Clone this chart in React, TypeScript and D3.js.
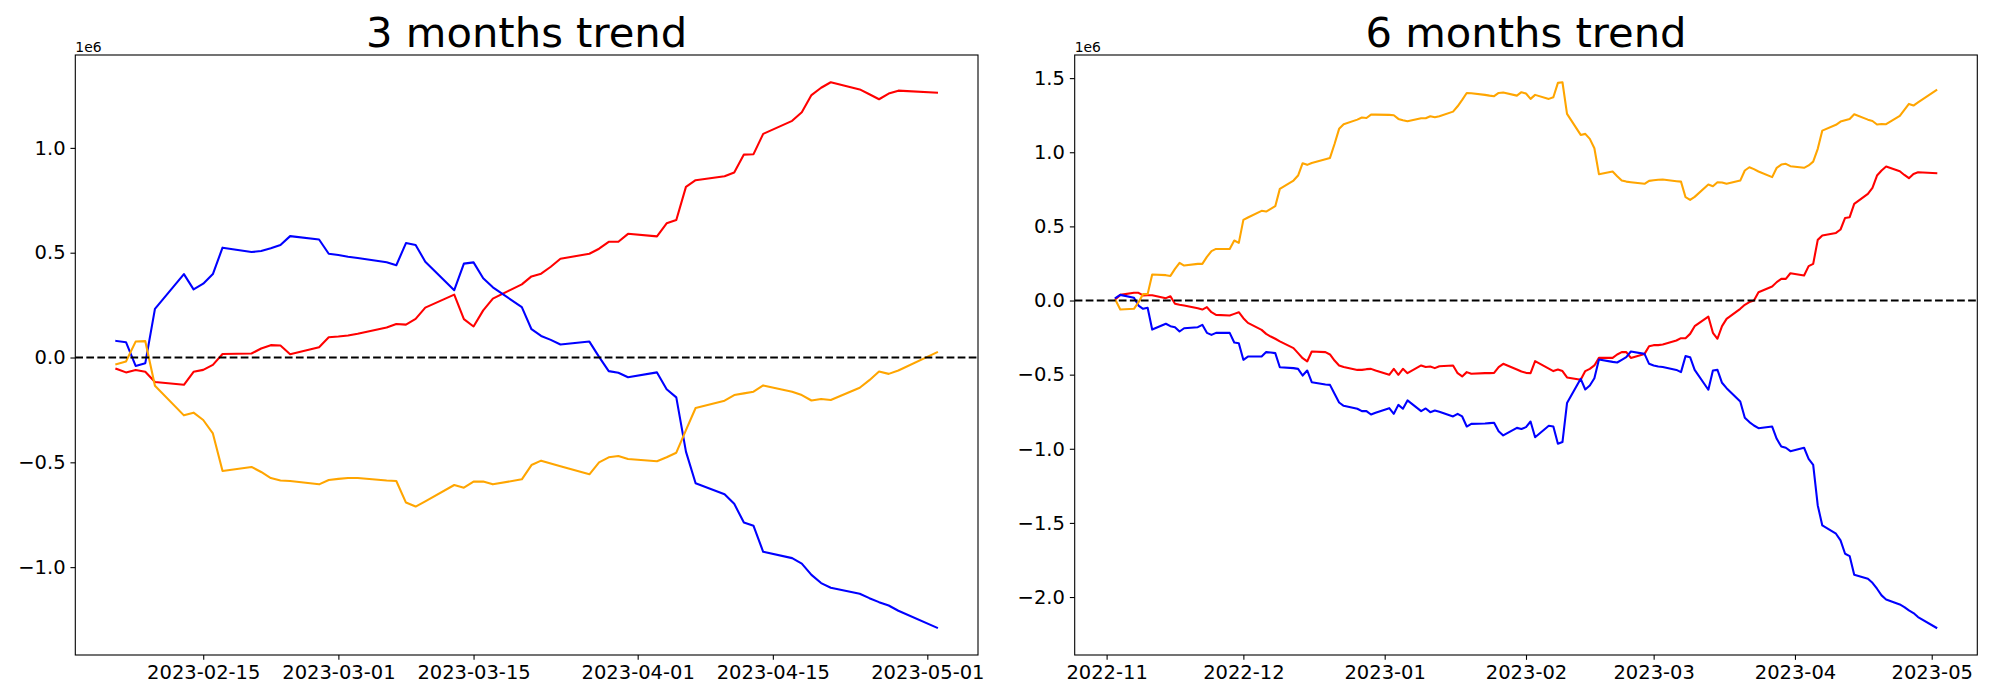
import React, { useRef, useEffect } from 'react';
import * as d3 from 'd3';

// 3 months panel: trading days and cumulative values (units of 1e6)
const dates3m = [
  '2023-02-06', '2023-02-07', '2023-02-08', '2023-02-09', '2023-02-10',
  '2023-02-13', '2023-02-14', '2023-02-15', '2023-02-16', '2023-02-17',
  '2023-02-20', '2023-02-21', '2023-02-22', '2023-02-23', '2023-02-24',
  '2023-02-27', '2023-02-28', '2023-03-01', '2023-03-02', '2023-03-03',
  '2023-03-06', '2023-03-07', '2023-03-08', '2023-03-09', '2023-03-10',
  '2023-03-13', '2023-03-14', '2023-03-15', '2023-03-16', '2023-03-17',
  '2023-03-20', '2023-03-21', '2023-03-22', '2023-03-23', '2023-03-24',
  '2023-03-27', '2023-03-28', '2023-03-29', '2023-03-30', '2023-03-31',
  '2023-04-03', '2023-04-04', '2023-04-05', '2023-04-06', '2023-04-07',
  '2023-04-10', '2023-04-11', '2023-04-12', '2023-04-13', '2023-04-14',
  '2023-04-17', '2023-04-18', '2023-04-19', '2023-04-20', '2023-04-21',
  '2023-04-24', '2023-04-25', '2023-04-26', '2023-04-27', '2023-04-28',
  '2023-05-02'
];

const red3m = [
  -0.054, -0.071, -0.060, -0.068, -0.117,
  -0.130, -0.068, -0.059, -0.035, 0.017,
  0.019, 0.043, 0.059, 0.057, 0.016,
  0.049, 0.097, 0.100, 0.105, 0.113,
  0.143, 0.160, 0.157, 0.184, 0.238,
  0.300, 0.183, 0.148, 0.225, 0.281,
  0.349, 0.387, 0.400, 0.433, 0.471,
  0.495, 0.519, 0.552, 0.552, 0.590,
  0.578, 0.640, 0.656, 0.814, 0.846,
  0.865, 0.883, 0.968, 0.970, 1.067,
  1.129, 1.170, 1.252, 1.287, 1.313,
  1.279, 1.256, 1.232, 1.259, 1.273,
  1.263
];

const blue3m = [
  0.079, 0.073, -0.040, -0.027, 0.232,
  0.398, 0.325, 0.352, 0.398, 0.524,
  0.503, 0.508, 0.521, 0.537, 0.579,
  0.563, 0.495, 0.489, 0.481, 0.475,
  0.454, 0.440, 0.546, 0.537, 0.457,
  0.321, 0.448, 0.454, 0.378, 0.335,
  0.240, 0.135, 0.103, 0.084, 0.062,
  0.076, 0.003, -0.065, -0.073, -0.094,
  -0.071, -0.151, -0.190, -0.449, -0.600,
  -0.652, -0.698, -0.787, -0.803, -0.927,
  -0.957, -0.983, -1.037, -1.076, -1.098,
  -1.127, -1.148, -1.167, -1.183, -1.208,
  -1.289
];

const orange3m = [
  -0.032, -0.019, 0.076, 0.078, -0.135,
  -0.276, -0.263, -0.298, -0.362, -0.541,
  -0.522, -0.546, -0.575, -0.587, -0.589,
  -0.605, -0.584, -0.579, -0.575, -0.575,
  -0.587, -0.589, -0.692, -0.711, -0.686,
  -0.608, -0.621, -0.592, -0.592, -0.605,
  -0.581, -0.513, -0.492, -0.506, -0.519,
  -0.557, -0.500, -0.476, -0.470, -0.484,
  -0.495, -0.476, -0.454, -0.346, -0.241,
  -0.206, -0.179, -0.171, -0.163, -0.133,
  -0.163, -0.179, -0.205, -0.198, -0.203,
  -0.144, -0.108, -0.067, -0.078, -0.062,
  0.025
];

// 6 months panel
const dates6m = [
  '2022-11-03', '2022-11-04',
  '2022-11-07', '2022-11-08', '2022-11-09', '2022-11-10', '2022-11-11',
  '2022-11-14', '2022-11-15', '2022-11-16', '2022-11-17', '2022-11-18',
  '2022-11-21', '2022-11-22', '2022-11-23', '2022-11-24', '2022-11-25',
  '2022-11-28', '2022-11-29', '2022-11-30', '2022-12-01', '2022-12-02',
  '2022-12-05', '2022-12-06', '2022-12-07', '2022-12-08', '2022-12-09',
  '2022-12-12', '2022-12-13', '2022-12-14', '2022-12-15', '2022-12-16',
  '2022-12-19', '2022-12-20', '2022-12-21', '2022-12-22', '2022-12-23',
  '2022-12-26', '2022-12-27', '2022-12-28', '2022-12-29', '2022-12-30',
  '2023-01-02', '2023-01-03', '2023-01-04', '2023-01-05', '2023-01-06',
  '2023-01-09', '2023-01-10', '2023-01-11', '2023-01-12', '2023-01-13',
  '2023-01-16', '2023-01-17', '2023-01-18', '2023-01-19', '2023-01-20',
  '2023-01-23', '2023-01-24', '2023-01-25', '2023-01-26', '2023-01-27',
  '2023-01-30', '2023-01-31', '2023-02-01', '2023-02-02', '2023-02-03',
  '2023-02-06', '2023-02-07', '2023-02-08', '2023-02-09', '2023-02-10',
  '2023-02-13', '2023-02-14', '2023-02-15', '2023-02-16', '2023-02-17',
  '2023-02-20', '2023-02-21', '2023-02-22', '2023-02-23', '2023-02-24',
  '2023-02-27', '2023-02-28', '2023-03-01', '2023-03-02', '2023-03-03',
  '2023-03-06', '2023-03-07', '2023-03-08', '2023-03-09', '2023-03-10',
  '2023-03-13', '2023-03-14', '2023-03-15', '2023-03-16', '2023-03-17',
  '2023-03-20', '2023-03-21', '2023-03-22', '2023-03-23', '2023-03-24',
  '2023-03-27', '2023-03-28', '2023-03-29', '2023-03-30', '2023-03-31',
  '2023-04-03', '2023-04-04', '2023-04-05', '2023-04-06', '2023-04-07',
  '2023-04-10', '2023-04-11', '2023-04-12', '2023-04-13', '2023-04-14',
  '2023-04-17', '2023-04-18', '2023-04-19', '2023-04-20', '2023-04-21',
  '2023-04-24', '2023-04-25', '2023-04-26', '2023-04-27', '2023-04-28',
  '2023-05-02'
];

const orange6m = [
  0.000, -0.061,
  -0.056, -0.011, 0.043, 0.043, 0.175,
  0.171, 0.166, 0.213, 0.254, 0.236,
  0.247, 0.247, 0.294, 0.333, 0.348,
  0.348, 0.405, 0.389, 0.544, 0.560,
  0.605, 0.600, 0.618, 0.636, 0.753,
  0.809, 0.843, 0.926, 0.915, 0.928,
  0.953, 0.962, 1.056, 1.158, 1.189,
  1.220, 1.234, 1.231, 1.254, 1.254,
  1.252, 1.250, 1.225, 1.216, 1.209,
  1.229, 1.229, 1.243, 1.236, 1.243,
  1.274, 1.310, 1.353, 1.400, 1.398,
  1.387, 1.382, 1.378, 1.400, 1.403,
  1.382, 1.405, 1.396, 1.360, 1.387,
  1.360, 1.371, 1.468, 1.472, 1.259,
  1.117, 1.124, 1.090, 1.027, 0.852,
  0.870, 0.838, 0.809, 0.802, 0.798,
  0.787, 0.807, 0.811, 0.814, 0.816,
  0.805, 0.802, 0.697, 0.679, 0.699,
  0.782, 0.771, 0.798, 0.796, 0.787,
  0.809, 0.877, 0.899, 0.886, 0.870,
  0.832, 0.895, 0.917, 0.922, 0.906,
  0.895, 0.911, 0.937, 1.023, 1.146,
  1.185, 1.207, 1.216, 1.225, 1.256,
  1.220, 1.211, 1.187, 1.191, 1.189,
  1.245, 1.286, 1.326, 1.315, 1.337,
  1.418
];

const red6m = [
  0.010, 0.038,
  0.052, 0.052, 0.034, 0.036, 0.036,
  0.016, 0.029, -0.022, -0.029, -0.034,
  -0.052, -0.061, -0.045, -0.079, -0.097,
  -0.101, -0.090, -0.079, -0.119, -0.151,
  -0.198, -0.225, -0.243, -0.258, -0.276,
  -0.321, -0.355, -0.389, -0.411, -0.344,
  -0.348, -0.364, -0.405, -0.438, -0.449,
  -0.468, -0.468, -0.463, -0.461, -0.472,
  -0.501, -0.461, -0.501, -0.461, -0.490,
  -0.438, -0.449, -0.445, -0.456, -0.443,
  -0.438, -0.490, -0.512, -0.483, -0.494,
  -0.490, -0.490, -0.488, -0.449, -0.427,
  -0.465, -0.479, -0.488, -0.490, -0.409,
  -0.459, -0.476, -0.465, -0.476, -0.519,
  -0.535, -0.476, -0.461, -0.438, -0.387,
  -0.387, -0.364, -0.348, -0.348, -0.387,
  -0.360, -0.308, -0.301, -0.301, -0.297,
  -0.270, -0.254, -0.254, -0.225, -0.173,
  -0.108, -0.218, -0.258, -0.173, -0.124,
  -0.056, -0.029, -0.011, 0.000, 0.056,
  0.094, 0.124, 0.146, 0.146, 0.184,
  0.169, 0.232, 0.247, 0.409, 0.438,
  0.456, 0.479, 0.557, 0.562, 0.652,
  0.719, 0.760, 0.843, 0.877, 0.904,
  0.872, 0.847, 0.825, 0.854, 0.865,
  0.859
];

const blue6m = [
  0.018, 0.038,
  0.018, -0.034, -0.056, -0.049, -0.196,
  -0.157, -0.173, -0.180, -0.209, -0.187,
  -0.180, -0.164, -0.218, -0.232, -0.218,
  -0.218, -0.283, -0.288, -0.400, -0.378,
  -0.378, -0.348, -0.351, -0.355, -0.450,
  -0.456, -0.461, -0.506, -0.472, -0.551,
  -0.566, -0.569, -0.629, -0.688, -0.710,
  -0.730, -0.746, -0.746, -0.769, -0.757,
  -0.726, -0.764, -0.704, -0.730, -0.674,
  -0.746, -0.728, -0.753, -0.742, -0.751,
  -0.782, -0.764, -0.782, -0.850, -0.832,
  -0.829, -0.827, -0.825, -0.881, -0.910,
  -0.859, -0.866, -0.854, -0.816, -0.922,
  -0.845, -0.850, -0.966, -0.955, -0.692,
  -0.528, -0.600, -0.573, -0.524, -0.398,
  -0.414, -0.418, -0.400, -0.382, -0.344,
  -0.360, -0.427, -0.438, -0.445, -0.449,
  -0.468, -0.483, -0.375, -0.382, -0.468,
  -0.602, -0.472, -0.468, -0.555, -0.591,
  -0.681, -0.791, -0.820, -0.843, -0.861,
  -0.850, -0.933, -0.985, -0.993, -1.016,
  -0.993, -1.068, -1.108, -1.382, -1.517,
  -1.573, -1.618, -1.708, -1.724, -1.850,
  -1.877, -1.904, -1.944, -1.989, -2.016,
  -2.050, -2.068, -2.090, -2.108, -2.135,
  -2.207
];

const xTicks3m = ['2023-02-15', '2023-03-01', '2023-03-15', '2023-04-01', '2023-04-15', '2023-05-01'];
const xTicks6m = ['2022-11-01', '2022-12-01', '2023-01-01', '2023-02-01', '2023-03-01', '2023-04-01', '2023-05-01'];
const yTicks3m = [-1.0, -0.5, 0.0, 0.5, 1.0];
const yTicks6m = [-2.0, -1.5, -1.0, -0.5, 0.0, 0.5, 1.0, 1.5];

const FONT = '"DejaVu Sans", sans-serif';
const parse = d3.utcParse('%Y-%m-%d');

interface Series {
  values: number[];
  color: string;
}

interface PanelConfig {
  title: string;
  dates: string[];
  series: Series[];
  xTicks: string[];
  xFormat: string;
  yTicks: number[];
  left: number;
  right: number;
}

function drawPanel(svg: d3.Selection<SVGSVGElement, unknown, null, undefined>, cfg: PanelConfig) {
  const top = 55;
  const bottom = 655;
  const dates = cfg.dates.map(d => parse(d) as Date);

  // matplotlib style 5% margins
  const [t0, t1] = d3.extent(dates) as [Date, Date];
  const tPad = (t1.getTime() - t0.getTime()) * 0.05;
  const allVals = cfg.series.flatMap(s => s.values);
  const [v0, v1] = d3.extent(allVals) as [number, number];
  const vPad = (v1 - v0) * 0.05;

  const x = d3.scaleUtc()
    .domain([new Date(t0.getTime() - tPad), new Date(t1.getTime() + tPad)])
    .range([cfg.left, cfg.right]);
  const y = d3.scaleLinear()
    .domain([v0 - vPad, v1 + vPad])
    .range([bottom, top]);

  const g = svg.append('g');

  // lines
  cfg.series.forEach(s => {
    const line = d3.line<number>()
      .x((_, i) => x(dates[i]))
      .y(v => y(v));
    g.append('path')
      .datum(s.values)
      .attr('d', line)
      .attr('fill', 'none')
      .attr('stroke', s.color)
      .attr('stroke-width', 2.08)
      .attr('stroke-linejoin', 'round')
      .attr('stroke-linecap', 'square');
  });

  // zero line
  g.append('line')
    .attr('x1', cfg.left)
    .attr('x2', cfg.right)
    .attr('y1', y(0))
    .attr('y2', y(0))
    .attr('stroke', '#000')
    .attr('stroke-width', 2.08)
    .attr('stroke-dasharray', '7.7 3.33');

  // axes
  const minus = (s: string) => s.replace('-', '\u2212');
  const xAxis = d3.axisBottom(x)
    .tickValues(cfg.xTicks.map(d => parse(d) as Date))
    .tickFormat(d => d3.utcFormat(cfg.xFormat)(d as Date))
    .tickSize(4.86)
    .tickSizeOuter(0)
    .tickPadding(4.86);
  const yAxis = d3.axisLeft(y)
    .tickValues(cfg.yTicks)
    .tickFormat(d => minus(d3.format('.1f')(d as number)))
    .tickSize(4.86)
    .tickSizeOuter(0)
    .tickPadding(4.86);

  const xg = g.append('g')
    .attr('transform', `translate(0,${bottom})`)
    .call(xAxis);
  const yg = g.append('g')
    .attr('transform', `translate(${cfg.left},0)`)
    .call(yAxis);

  [xg, yg].forEach(ax => {
    ax.select('.domain').remove();
    ax.selectAll('line').attr('stroke', '#000').attr('stroke-width', 1.1);
    ax.selectAll('text')
      .attr('fill', '#000')
      .style('font-family', FONT)
      .style('font-size', '19.5px');
  });

  // spines
  g.append('rect')
    .attr('x', cfg.left)
    .attr('y', top)
    .attr('width', cfg.right - cfg.left)
    .attr('height', bottom - top)
    .attr('fill', 'none')
    .attr('stroke', '#000')
    .attr('stroke-width', 1.1);

  // offset text
  g.append('text')
    .attr('x', cfg.left)
    .attr('y', 51.5)
    .style('font-family', FONT)
    .style('font-size', '13.9px')
    .text('1e6');

  // title
  g.append('text')
    .attr('x', (cfg.left + cfg.right) / 2)
    .attr('y', 46.7)
    .attr('text-anchor', 'middle')
    .style('font-family', FONT)
    .style('font-size', '41.7px')
    .text(cfg.title);
}

export default function App() {
  const svgRef = useRef<SVGSVGElement>(null);

  useEffect(() => {
    const svg = d3.select(svgRef.current as SVGSVGElement);
    svg.selectAll('*').remove();

    svg.append('rect')
      .attr('width', 2000)
      .attr('height', 700)
      .attr('fill', '#fff');

    drawPanel(svg, {
      title: '3 months trend',
      dates: dates3m,
      series: [
        { values: red3m, color: '#ff0000' },
        { values: blue3m, color: '#0000ff' },
        { values: orange3m, color: '#ffa500' }
      ],
      xTicks: xTicks3m,
      xFormat: '%Y-%m-%d',
      yTicks: yTicks3m,
      left: 75.3,
      right: 978
    });

    drawPanel(svg, {
      title: '6 months trend',
      dates: dates6m,
      series: [
        { values: red6m, color: '#ff0000' },
        { values: blue6m, color: '#0000ff' },
        { values: orange6m, color: '#ffa500' }
      ],
      xTicks: xTicks6m,
      xFormat: '%Y-%m',
      yTicks: yTicks6m,
      left: 1074.7,
      right: 1977.3
    });
  }, []);

  return (
    <svg
      ref={svgRef}
      width={2000}
      height={700}
      style={{ position: 'absolute', left: 0, top: 0, display: 'block' }}
    />
  );
}
